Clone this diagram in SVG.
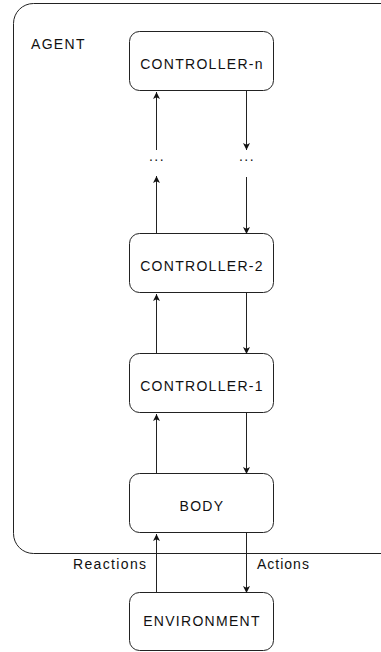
<svg xmlns="http://www.w3.org/2000/svg" width="381" height="652" viewBox="0 0 381 652">
<style>
.box{fill:#fff;stroke:#222;stroke-width:1}
.t{font-family:"Liberation Sans",Arial,sans-serif;font-size:14px;fill:#111;letter-spacing:1.3px}
.c{text-anchor:middle}
.ln{stroke:#222;stroke-width:1;fill:none}
</style>
<defs>
<marker id="ah" viewBox="0 0 8 8" refX="8" refY="4" markerWidth="7" markerHeight="7" markerUnits="userSpaceOnUse" orient="auto">
<path d="M0,0 L8,4 L0,8 L2,4 Z" fill="#111"/>
</marker>
</defs>
<rect width="381" height="652" fill="#fff"/>
<g id="agent">
<rect x="13.5" y="3.5" width="420" height="550" rx="20" class="box"/>
<text x="31" y="49" class="t">AGENT</text>
</g>
<g id="controller-n">
<rect x="129.5" y="31.5" width="144" height="59" rx="10" class="box"/>
<text x="202" y="69.3" class="t c">CONTROLLER-n</text>
</g>
<g id="controller-2">
<rect x="129.5" y="233.5" width="144" height="59" rx="10" class="box"/>
<text x="202" y="270.7" class="t c">CONTROLLER-2</text>
</g>
<g id="controller-1">
<rect x="129.5" y="353.5" width="144" height="59" rx="10" class="box"/>
<text x="202" y="390.7" class="t c">CONTROLLER-1</text>
</g>
<g id="body">
<rect x="129.5" y="473.5" width="144" height="59" rx="10" class="box"/>
<text x="202" y="510.5" class="t c">BODY</text>
</g>
<g id="environment">
<rect x="129.5" y="592.5" width="144" height="58" rx="10" class="box"/>
<text x="202" y="626" class="t c">ENVIRONMENT</text>
</g>
<g id="dots">
<text x="157" y="161" class="t c" style="letter-spacing:1.5px">...</text>
<text x="247" y="161" class="t c" style="letter-spacing:1.5px">...</text>
</g>
<g id="connectors">
<line x1="156.5" y1="150" x2="156.5" y2="92" class="ln" marker-end="url(#ah)"/>
<line x1="246.5" y1="91" x2="246.5" y2="150" class="ln" marker-end="url(#ah)"/>
<line x1="156.5" y1="233" x2="156.5" y2="176" class="ln" marker-end="url(#ah)"/>
<line x1="246.5" y1="177" x2="246.5" y2="234" class="ln" marker-end="url(#ah)"/>
<line x1="156.5" y1="353" x2="156.5" y2="294" class="ln" marker-end="url(#ah)"/>
<line x1="246.5" y1="293" x2="246.5" y2="354" class="ln" marker-end="url(#ah)"/>
<line x1="156.5" y1="473" x2="156.5" y2="414" class="ln" marker-end="url(#ah)"/>
<line x1="246.5" y1="413" x2="246.5" y2="474" class="ln" marker-end="url(#ah)"/>
<line x1="156.5" y1="592" x2="156.5" y2="534" class="ln" marker-end="url(#ah)"/>
<line x1="246.5" y1="533" x2="246.5" y2="593" class="ln" marker-end="url(#ah)"/>
<text x="73" y="568.5" class="t" style="letter-spacing:1.35px">Reactions</text>
<text x="257" y="568.5" class="t" style="letter-spacing:1px">Actions</text>
</g>
</svg>
